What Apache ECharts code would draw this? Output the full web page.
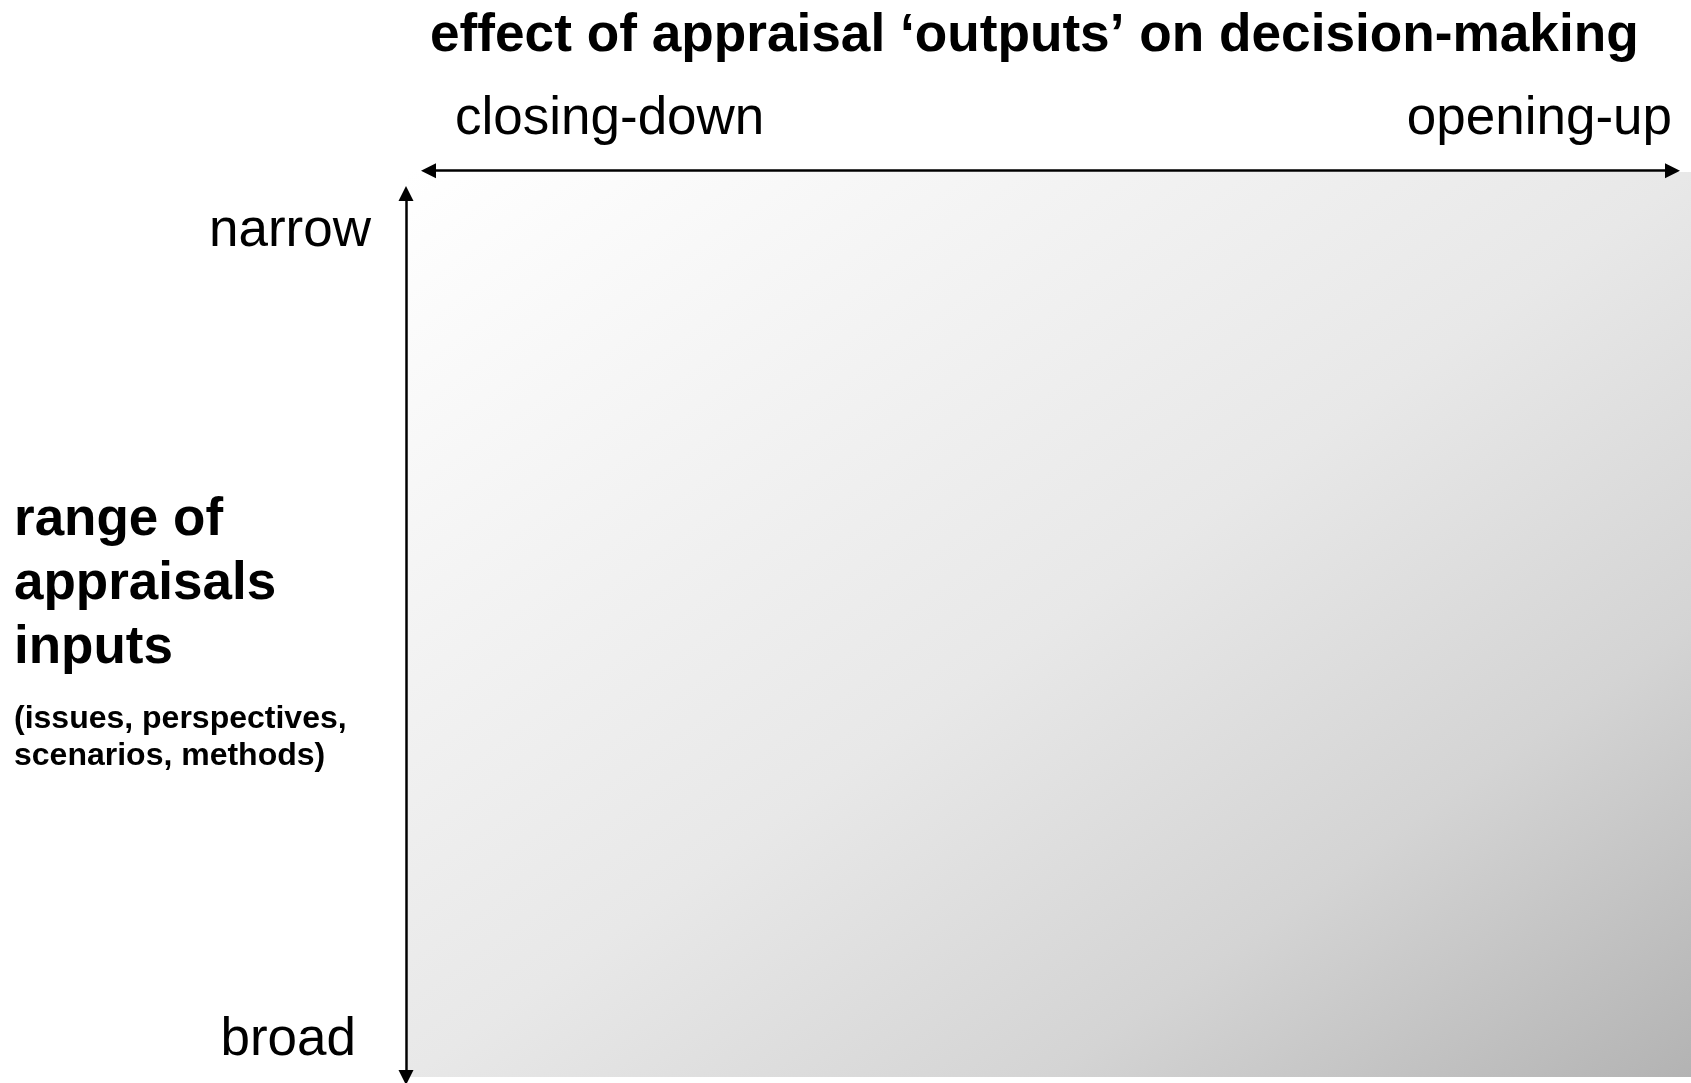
<!DOCTYPE html>
<html>

<head>
    <meta charset="utf-8">
    <title>appraisal inputs and outputs</title>
    <script src="https://cdn.jsdelivr.net/npm/echarts@6/dist/echarts.min.js"></script>
    <style>
        html, body { margin: 0; padding: 0; background: #fff; }
        #main { width: 1691px; height: 1083px; }
    </style>
</head>

<body>
    <div id="main"></div>
    <script type="text/javascript">

        var xTitle = 'effect of appraisal ‘outputs’ on decision-making';
        var xEnds = ['closing-down', 'opening-up'];     // left / right end of the top arrow
        var yEnds = ['narrow', 'broad'];                // top / bottom end of the left arrow
        var yTitle = ['range of', 'appraisals', 'inputs'];
        var yNote = ['(issues, perspectives,', 'scenarios, methods)'];
        var shade = [[0, '#ffffff'], [0.5, '#e8e8e8'], [0.75, '#d4d4d4'], [1, '#b3b3b3']];

        var myChart = echarts.init(document.getElementById('main'));
        var FONT = '"Liberation Sans", Arial, sans-serif';

        // text placed by its baseline
        function label(str, x, base, size, bold, align) {
            return {
                type: 'text',
                x: x,
                y: base - 0.29 * size,
                silent: true,
                style: {
                    text: str,
                    fill: '#000',
                    font: (bold ? 'bold ' : '') + size + 'px ' + FONT,
                    align: align, textAlign: align,
                    verticalAlign: 'middle', textVerticalAlign: 'middle'
                }
            };
        }

        var texts = [];
        texts.push(label(xTitle, 430, 52, 53.2, true, 'left'));
        texts.push(label(xEnds[0], 455, 135, 53, false, 'left'));
        texts.push(label(xEnds[1], 1672, 135, 53, false, 'right'));
        texts.push(label(yEnds[0], 371, 247, 53, false, 'right'));
        texts.push(label(yEnds[1], 356, 1056, 53, false, 'right'));
        yTitle.forEach(function (s, i) {
            texts.push(label(s, 14, 536 + i * 64, 53, true, 'left'));
        });
        yNote.forEach(function (s, i) {
            texts.push(label(s, 14, 728 + i * 37, 32, true, 'left'));
        });

        var arrowLine = {
            show: true,
            onZero: false,
            symbol: ['triangle', 'triangle'],
            symbolSize: [15, 15],
            lineStyle: { color: '#000', width: 2.5 }
        };
        var hidden = { type: 'value', min: 0, max: 1, show: false };

        var option = {
            animation: false,
            backgroundColor: '#fff',
            grid: [
                {   // shaded field
                    left: 408, top: 172, right: 0, bottom: 6,
                    show: true, borderWidth: 0,
                    backgroundColor: new echarts.graphic.LinearGradient(0, 0, 0.6645, 1.3355,
                        shade.map(function (s) { return { offset: s[0], color: s[1] }; }))
                },
                { left: 428.5, right: 18.5, top: 170.7, height: 10 },    // top arrow
                { left: 406, width: 10, top: 193.5, bottom: 5.5 }       // left arrow
            ],
            xAxis: [
                Object.assign({ gridIndex: 0 }, hidden),
                {
                    gridIndex: 1, type: 'value', min: 0, max: 1, position: 'top',
                    axisLine: arrowLine,
                    axisTick: { show: false }, axisLabel: { show: false }, splitLine: { show: false }
                },
                Object.assign({ gridIndex: 2 }, hidden)
            ],
            yAxis: [
                Object.assign({ gridIndex: 0 }, hidden),
                Object.assign({ gridIndex: 1 }, hidden),
                {
                    gridIndex: 2, type: 'value', min: 0, max: 1, position: 'left',
                    axisLine: arrowLine,
                    axisTick: { show: false }, axisLabel: { show: false }, splitLine: { show: false }
                }
            ],
            graphic: texts,
            series: []
        };
        myChart.setOption(option);
    </script>
</body>

</html>
